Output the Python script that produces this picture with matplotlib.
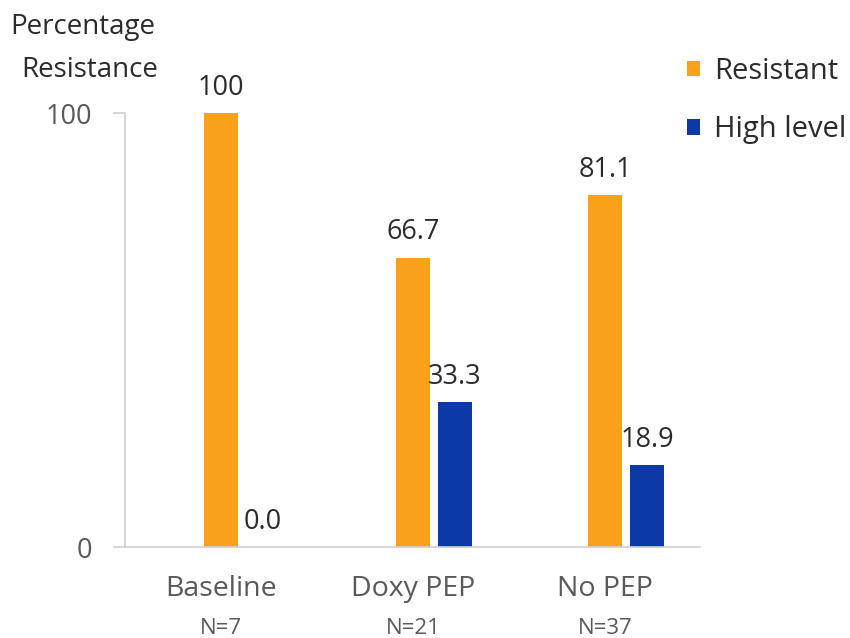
import matplotlib
matplotlib.use("Agg")
import matplotlib.pyplot as plt
import numpy as np

plt.rcParams['font.family'] = ['Open Sans', 'DejaVu Sans']

groups = ["Baseline", "Doxy PEP", "No PEP"]
counts = ["N=7", "N=21", "N=37"]
resistant = [100, 66.7, 81.1]
high_level = [0.0, 33.3, 18.9]
resistant_labels = ["100", "66.7", "81.1"]
high_labels = ["0.0", "33.3", "18.9"]

ORANGE = "#F9A11B"
BLUE = "#0B3AA6"
TXT = "#2b2b2b"
GREY = "#595959"

fig = plt.figure(figsize=(8.5, 6.38), dpi=100)
W, H = 850, 638
# axes box in pixels: left 125, right 700, top 113, bottom 547
ax = fig.add_axes([125 / W, (H - 547) / H, (700 - 125) / W, (547 - 113) / H])

x = np.arange(len(groups))
off = 0.109
bw = 0.177
ax.bar(x - off, resistant, bw, color=ORANGE, label="Resistant")
ax.bar(x + off, high_level, bw, color=BLUE, label="High level")

for i in range(len(groups)):
    ax.annotate(resistant_labels[i], (x[i] - off, resistant[i]), xytext=(0, 8),
                textcoords="offset points", ha="center", va="bottom",
                fontsize=19.5, color=TXT)
    ax.annotate(high_labels[i], (x[i] + off, high_level[i]), xytext=(0, 8),
                textcoords="offset points", ha="center", va="bottom",
                fontsize=19.5, color=TXT)

ax.set_xlim(-0.609, 2.385)
ax.set_ylim(0, 100)
ax.set_yticks([0, 100])
ax.set_yticklabels(["0", "100"])
ax.set_xticks([])
ax.tick_params(axis="y", length=8.5, width=1.2, color="#d0d0d0",
               labelsize=19.5, labelcolor=GREY, pad=15)

for s in ["top", "right"]:
    ax.spines[s].set_visible(False)
for s in ["left", "bottom"]:
    ax.spines[s].set_color("#d0d0d0")
    ax.spines[s].set_linewidth(1.2)

# category names with sample sizes underneath
for i, (g, n) in enumerate(zip(groups, counts)):
    ax.annotate(g, (x[i] - off, 0), xytext=(0, -30), textcoords="offset points",
                ha="center", va="center", fontsize=20.5, color=GREY,
                annotation_clip=False)
    ax.annotate(n, (x[i] - off, 0), xytext=(0, -59), textcoords="offset points",
                ha="center", va="center", fontsize=16, color=GREY,
                annotation_clip=False)

fig.text(10 / W, 1 - 27 / H, "Percentage", fontsize=20, color=TXT,
         ha="left", va="center")
fig.text(21 / W, 1 - 70 / H, "Resistance", fontsize=20, color=TXT,
         ha="left", va="center")

ax.legend(loc="upper left", bbox_to_anchor=(661 / W, 1 - 31 / H),
          bbox_transform=fig.transFigure, frameon=False, fontsize=21,
          handlelength=0.42, handleheight=0.42, handletextpad=0.5,
          labelspacing=1.0, labelcolor=TXT)

fig.savefig("out.png", dpi=100, facecolor="white")
